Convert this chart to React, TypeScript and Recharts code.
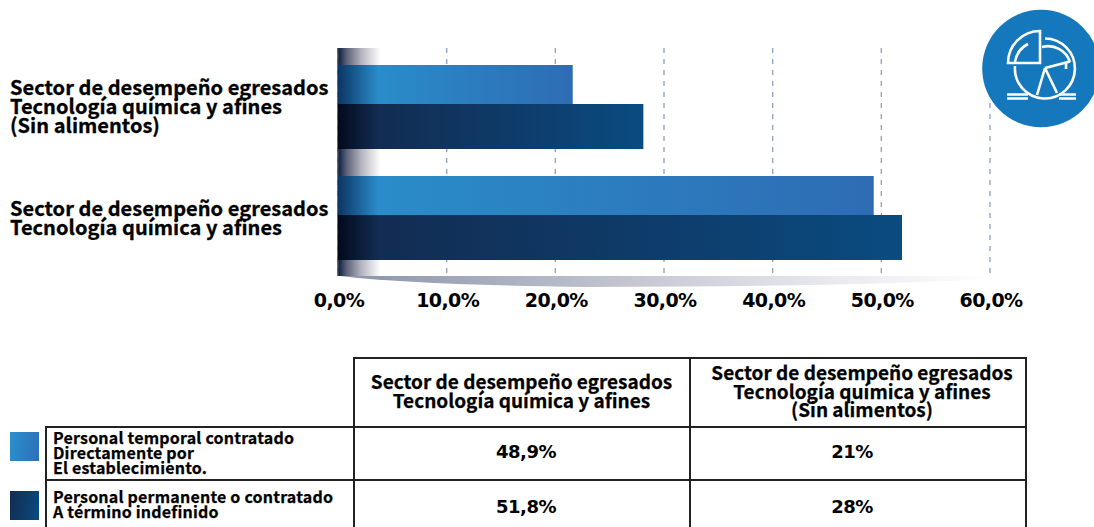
import { Bar, BarChart, CartesianGrid, ReferenceArea, XAxis, YAxis } from "recharts"

const categories = [
  ["Sector de desempeño egresados", "Tecnología química y afines", "(Sin alimentos)"],
  ["Sector de desempeño egresados", "Tecnología química y afines"],
]
const temporalValues = [21.6, 49.3]
const permanentValues = [28.1, 51.9]
const xTicks = [0, 10, 20, 30, 40, 50, 60]

const tableHeaders = [
  ["Sector de desempeño egresados", "Tecnología química y afines"],
  ["Sector de desempeño egresados", "Tecnología química y afines", "(Sin alimentos)"],
]
const tableRows = [
  { label: ["Personal temporal contratado", "Directamente por", "El establecimiento."], values: ["48,9%", "21%"] },
  { label: ["Personal permanente o contratado", "A término indefinido"], values: ["51,8%", "28%"] },
]

const chartData = categories.map((lines, i) => ({
  name: lines.join("|"),
  temporal: temporalValues[i],
  permanente: permanentValues[i],
}))

const labelFont = "'Noto Sans CJK JP', 'Noto Sans', sans-serif"
const numberFont = "'DejaVu Sans', sans-serif"
const lineColor = "#222"
const axisPadding = 5

function GradientBar(props: any) {
  const { x, y, width, height, index, colors, trim = 0, id } = props
  const gradId = `${id}-${index}`
  return (
    <g>
      <defs>
        <linearGradient id={gradId} x1="0" y1="0" x2="1" y2="0">
          <stop offset="0" stopColor={colors[0]} />
          <stop offset={40 / width} stopColor={colors[1]} />
          <stop offset="1" stopColor={colors[2]} />
        </linearGradient>
      </defs>
      <rect x={x} y={y + trim} width={width} height={height - trim} fill={`url(#${gradId})`} />
    </g>
  )
}

function CategoryTick({ y, payload }: any) {
  const lines = String(payload.value).split("|")
  const start = y + 5.5 - ((lines.length - 1) * 19) / 2
  return (
    <text
      fontFamily={labelFont}
      fontWeight={700}
      fontSize={20}
      letterSpacing={0.04}
      fill="#000"
      stroke="#000"
      strokeWidth={0.3}
      dominantBaseline="middle"
    >
      {lines.map((line, i) => (
        <tspan key={i} x={10} y={start + i * 19}>
          {line}
        </tspan>
      ))}
    </text>
  )
}

// the band scale stops short of the plot bottom because of the axis padding
function AxisFade({ x, y, width, height }: any) {
  const h = height + axisPadding + 1
  return (
    <g>
      <rect x={x} y={y} width={width} height={h} fill="url(#axisFade)" />
      <line x1={x} x2={x} y1={y} y2={y + h} stroke="#3c4256" strokeWidth={1.5} />
    </g>
  )
}

function Swoosh({ x, y, width, height }: any) {
  const bottom = y + height + axisPadding
  return (
    <g>
      <defs>
        <linearGradient id="swoosh" x1="0" y1="0" x2="1" y2="0">
          <stop offset="0" stopColor="#8a93a8" />
          <stop offset="0.45" stopColor="#c4c6d2" />
          <stop offset="0.75" stopColor="#e8e8ee" />
          <stop offset="1" stopColor="#ffffff" />
        </linearGradient>
      </defs>
      <path
        d={`M${x + 2} ${bottom + 1} L${x + width} ${bottom + 1} L${x + width} ${bottom + 4} Q${x + 500} ${bottom + 12} ${x + 250} ${bottom + 12} Q${x + 80} ${bottom + 10} ${x + 2} ${bottom + 1} Z`}
        fill="url(#swoosh)"
      />
    </g>
  )
}

function ChartIcon() {
  const line = { fill: "none", stroke: "#fff", strokeWidth: 2.6 }
  return (
    <svg width={1094} height={130} style={{ position: "absolute", left: 0, top: 0 }}>
      <circle cx={1041} cy={68.5} r={58.8} fill="#0b72b9" fillOpacity={0.96} />
      <path d="M1040 31 A32 32 0 0 0 1008 63 L1040 63 Z" {...line} />
      <path d="M1028 44 A24 24 0 0 0 1015 62" {...line} />
      <path d="M1045 38.5 A30 30 0 1 1 1015 66" {...line} />
      <path d="M1042 47 A23 23 0 0 1 1070 62" {...line} />
      <path d="M1045 68 L1070 61.5 M1045 68 L1037 95 M1045 68 L1057 93 M1066 63 L1066 69" {...line} />
      <path d="M1007 94.5 L1028 94.5 M1007 98.5 L1028 98.5 M1059 94.5 L1076 94.5 M1059 98.5 L1076 98.5" {...line} />
    </svg>
  )
}

const cellBorder = `2px solid ${lineColor}`

function DataTable() {
  return (
    <table
      style={{
        position: "absolute",
        left: 45,
        top: 357,
        width: 980,
        tableLayout: "fixed",
        borderCollapse: "collapse",
        color: "#000",
      }}
    >
      <colgroup>
        <col style={{ width: 308 }} />
        <col style={{ width: 336 }} />
        <col style={{ width: 336 }} />
      </colgroup>
      <tbody>
        <tr style={{ height: 69 }}>
          <td style={{ padding: 0 }} />
          {tableHeaders.map((lines, i) => (
            <td
              key={i}
              style={{
                border: cellBorder,
                padding: i === 0 ? "0 1px 4px 0" : "0 0 3px 8px",
                textAlign: "center",
                fontFamily: labelFont,
                fontWeight: 700,
                fontSize: 19,
                lineHeight: "18.5px",
                WebkitTextStroke: "0.25px #000",
              }}
            >
              {lines.map((l, j) => (
                <div key={j}>{l}</div>
              ))}
            </td>
          ))}
        </tr>
        {tableRows.map((row, i) => (
          <tr key={i} style={{ height: i === 0 ? 53 : 50 }}>
            <td
              style={{
                border: cellBorder,
                padding: "0 0 2px 6px",
                fontFamily: labelFont,
                fontWeight: 700,
                fontSize: 16,
                lineHeight: "14.8px",
                letterSpacing: 0.2,
                WebkitTextStroke: "0.25px #000",
              }}
            >
              {row.label.map((l, j) => (
                <div key={j}>{l}</div>
              ))}
            </td>
            {row.values.map((v, j) => (
              <td
                key={j}
                style={{
                  border: cellBorder,
                  padding: `${i === 1 ? 3 : 0}px ${j === 1 ? 12 : 0}px ${i === 0 ? 5 : 0}px ${j === 0 ? 8 : 0}px`,
                  textAlign: "center",
                  fontFamily: numberFont,
                  fontWeight: 700,
                  fontSize: 18,
                  letterSpacing: -0.5,
                }}
              >
                {v}
              </td>
            ))}
          </tr>
        ))}
      </tbody>
    </table>
  )
}

function LegendSwatch({ top, colors, id }: { top: number; colors: string[]; id: string }) {
  return (
    <div
      style={{
        position: "absolute",
        left: 10,
        top,
        width: 29,
        height: 29,
        background: `linear-gradient(100deg, ${colors[0]}, ${colors[1]})`,
      }}
      data-series={id}
    />
  )
}

export default function App() {
  return (
    <div
      style={{
        position: "absolute",
        left: 0,
        top: 0,
        width: 1094,
        height: 527,
        overflow: "hidden",
        background: "#fff",
      }}
    >
      <BarChart
        width={1094}
        height={330}
        data={chartData}
        layout="vertical"
        barSize={45}
        barGap={0}
        margin={{ top: 48, right: 104, bottom: 0, left: 0 }}
      >
        <defs>
          <linearGradient id="axisFade" x1="0" y1="0" x2="1" y2="0">
            <stop offset="0" stopColor="#0b1a3c" />
            <stop offset="0.2" stopColor="#5a6078" />
            <stop offset="0.55" stopColor="#b4b4c0" />
            <stop offset="1" stopColor="#ffffff" />
          </linearGradient>
        </defs>
        <CartesianGrid horizontal={false} stroke="#93a5bd" strokeWidth={1.4} strokeDasharray="5 6" />
        <ReferenceArea x1={0} x2={60} ifOverflow="visible" shape={<Swoosh />} />
        <ReferenceArea x1={0} x2={3.9} ifOverflow="visible" shape={<AxisFade />} />
        <XAxis
          type="number"
          domain={[0, 60]}
          ticks={xTicks}
          tickFormatter={(v) => `${v.toFixed(1).replace(".", ",")}%`}
          axisLine={false}
          tickLine={false}
          height={55}
          interval={0}
          tickMargin={13}
          tick={{ fontFamily: numberFont, fontWeight: 700, fontSize: 19, letterSpacing: -0.6, fill: "#000", dx: 1 }}
        />
        <YAxis
          type="category"
          dataKey="name"
          width={338}
          padding={{ top: 0, bottom: axisPadding }}
          tick={<CategoryTick />}
          tickLine={false}
          axisLine={false}
        />
        <Bar
          dataKey="temporal"
          isAnimationActive={false}
          shape={<GradientBar id="temporal" trim={6} colors={["#0b3564", "#2a8cca", "#2e6cb3"]} />}
        />
        <Bar
          dataKey="permanente"
          isAnimationActive={false}
          shape={<GradientBar id="permanente" colors={["#020a1c", "#122c52", "#0a4b80"]} />}
        />
      </BarChart>
      <ChartIcon />
      <DataTable />
      <LegendSwatch top={432} id="temporal" colors={["#2a90d0", "#2e6fb5"]} />
      <LegendSwatch top={491} id="permanente" colors={["#122c52", "#0a4b80"]} />
    </div>
  )
}
